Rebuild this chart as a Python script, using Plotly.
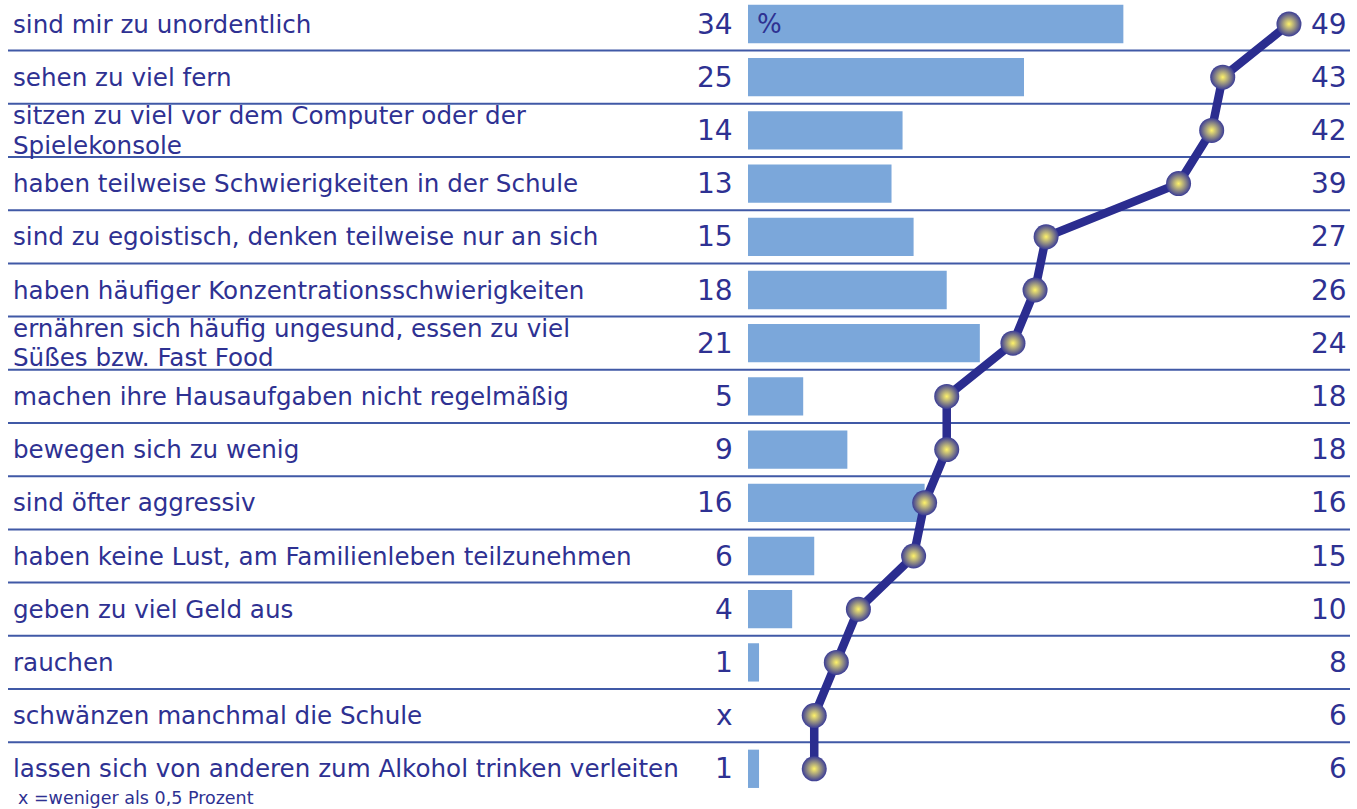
import plotly.graph_objects as go

labels = [
    "sind mir zu unordentlich",
    "sehen zu viel fern",
    "sitzen zu viel vor dem Computer oder der<br>Spielekonsole",
    "haben teilweise Schwierigkeiten in der Schule",
    "sind zu egoistisch, denken teilweise nur an sich",
    "haben häufiger Konzentrationsschwierigkeiten",
    "ernähren sich häufig ungesund, essen zu viel<br>Süßes bzw. Fast Food",
    "machen ihre Hausaufgaben nicht regelmäßig",
    "bewegen sich zu wenig",
    "sind öfter aggressiv",
    "haben keine Lust, am Familienleben teilzunehmen",
    "geben zu viel Geld aus",
    "rauchen",
    "schwänzen manchmal die Schule",
    "lassen sich von anderen zum Alkohol trinken verleiten",
]
bar_values = [34, 25, 14, 13, 15, 18, 21, 5, 9, 16, 6, 4, 1, None, 1]
bar_texts = ["34", "25", "14", "13", "15", "18", "21", "5", "9", "16", "6", "4", "1", "x", "1"]
line_values = [49, 43, 42, 39, 27, 26, 24, 18, 18, 16, 15, 10, 8, 6, 6]
footnote = "x =weniger als 0,5 Prozent"

W, H = 1357, 809
TEXT = "#2e3192"
LINE = "#2b2d8f"
BAR = "#7ba7da"
SEP = "#4059a6"
FONT = "DejaVu Sans"

n = len(labels)
rows = list(range(n))

# pixel geometry helpers
px0, pxu = 748.0, 11.04  # x pixel of value 0, pixels per unit
xmin = -px0 / pxu
xmax = (W - px0) / pxu
row_h = 53.2
plot_h = 809
y_top = -24 / row_h
y_bot = y_top + plot_h / row_h

fig = go.Figure()
fig.add_trace(go.Bar(
    y=rows, x=[v if v is not None else 0 for v in bar_values], orientation="h",
    marker=dict(color=BAR, line=dict(width=0)), width=0.72, hoverinfo="skip",
))
fig.add_trace(go.Scatter(
    y=rows, x=line_values, mode="lines+markers",
    line=dict(color=LINE, width=8.5),
    marker=dict(size=25, color="#3a3c96",
                gradient=dict(type="radial", color="#fff36a"),
                line=dict(width=0)),
    hoverinfo="skip",
))

shapes = []
for i in range(n - 1):
    shapes.append(dict(type="line", xref="paper", yref="y",
                       x0=8 / W, x1=1350 / W, y0=i + 0.5, y1=i + 0.5,
                       line=dict(color=SEP, width=2), layer="below"))

ann = []
for i in rows:
    parts = labels[i].split("<br>")
    if len(parts) == 1:
        offs = [0.0]
    else:
        offs = [-14.6 / row_h, 14.6 / row_h]
    for part, off in zip(parts, offs):
        ann.append(dict(xref="paper", yref="y", x=12 / W, y=i + off, text=part,
                        xanchor="left", yanchor="middle", showarrow=False, align="left",
                        borderpad=0,
                        font=dict(family=FONT, size=24.6, color=TEXT)))
    ann.append(dict(xref="paper", yref="y", x=735 / W, y=i, text=bar_texts[i],
                    xanchor="right", yanchor="middle", showarrow=False,
                    font=dict(family=FONT, size=28, color=TEXT)))
    ann.append(dict(xref="paper", yref="y", x=1349 / W, y=i, text=str(line_values[i]),
                    xanchor="right", yanchor="middle", showarrow=False,
                    font=dict(family=FONT, size=28, color=TEXT)))
ann.append(dict(xref="x", yref="y", x=0.6, y=0, text="%", xanchor="left",
                yanchor="middle", showarrow=False,
                font=dict(family=FONT, size=26, color=TEXT)))
ann.append(dict(xref="paper", yref="paper", x=16 / W, y=1 - 798 / plot_h, text=footnote,
                xanchor="left", yanchor="middle", showarrow=False,
                font=dict(family=FONT, size=17.5, color=TEXT)))

fig.update_layout(
    width=W, height=H,
    margin=dict(l=0, r=0, t=0, b=0, pad=0),
    paper_bgcolor="white", plot_bgcolor="white",
    showlegend=False,
    xaxis=dict(range=[xmin, xmax], visible=False, fixedrange=True),
    yaxis=dict(range=[y_bot, y_top], visible=False, fixedrange=True),
    shapes=shapes, annotations=ann,
)
fig.write_html("out.html", config={"displayModeBar": False},
               post_script="document.body.style.margin='0';document.body.style.overflow='hidden';")
